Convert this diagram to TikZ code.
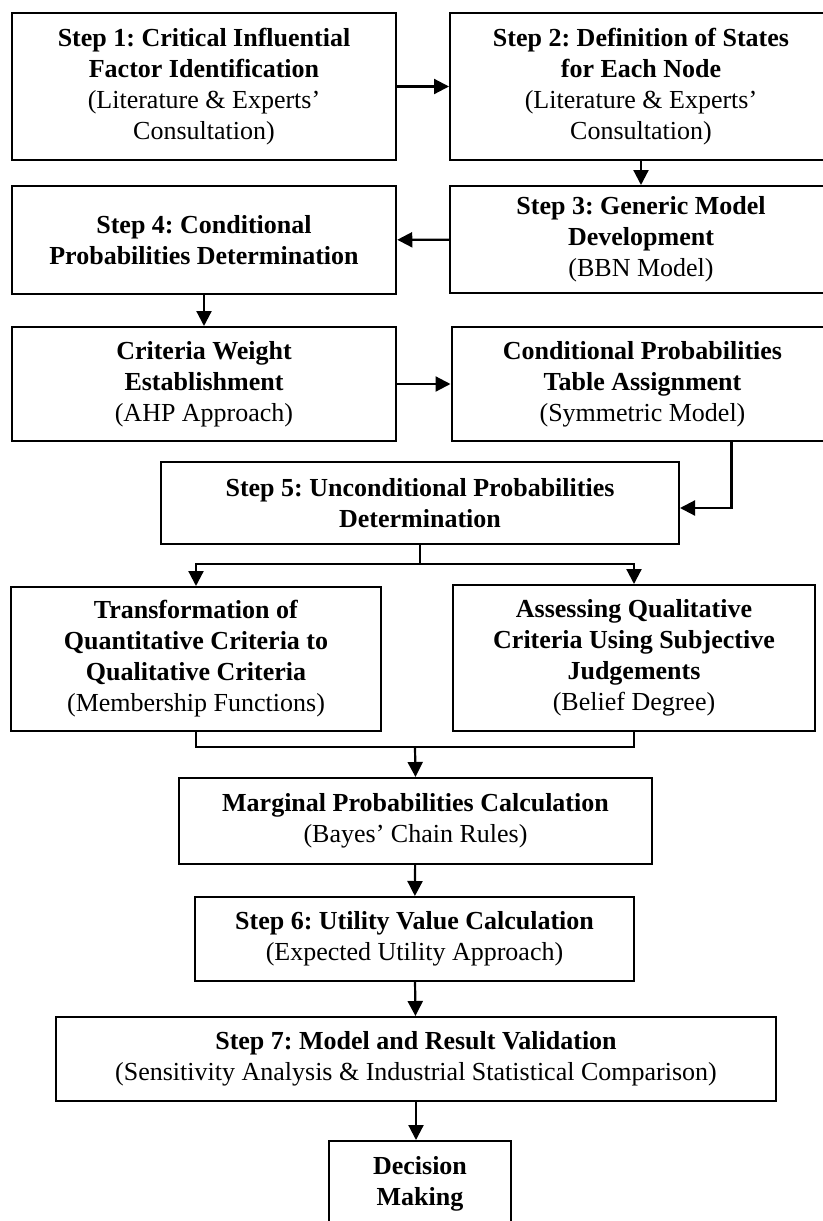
\documentclass[tikz,border=0pt]{standalone}
\usepackage{fontspec}
\setmainfont{Liberation Serif}
\frenchspacing
\usetikzlibrary{arrows.meta}

\begin{document}
\begin{tikzpicture}[x=0.5pt,y=-0.5pt,
    stepbox/.style={draw, line width=1pt, align=center, inner sep=2pt,
        font=\fontsize{13pt}{15.5pt}\selectfont},
    arr/.style={line width=1.1pt, -{Triangle[length=7.5pt,width=7.5pt]}}]
    \useasboundingbox (0,0) rectangle (823,1221);
    \clip (0,0) rectangle (823,1221);

    % first two rows
    \node[stepbox, minimum width=192.25pt, minimum height=73.5pt] (S1) at (204,86.5)
        {\textbf{Step 1: Critical Influential}\\\textbf{Factor Identification}\\(Literature \& Experts'\\Consultation)};
    \node[stepbox, minimum width=191pt, minimum height=73.5pt] (S2) at (641,86.5)
        {\textbf{Step 2: Definition of States}\\\textbf{for Each Node}\\(Literature \& Experts'\\Consultation)};
    \node[stepbox, minimum width=191pt, minimum height=53.5pt] (S3) at (641,239.5)
        {\textbf{Step 3: Generic Model}\\\textbf{Development}\\(BBN Model)};
    \node[stepbox, minimum width=192.25pt, minimum height=54pt] (S4) at (204,240)
        {\textbf{Step 4: Conditional}\\\textbf{Probabilities Determination}};

    % weights and tables
    \node[stepbox, minimum width=192.25pt, minimum height=57pt] (CW) at (204,384)
        {\textbf{Criteria Weight}\\\textbf{Establishment}\\(AHP Approach)};
    \node[stepbox, minimum width=191pt, minimum height=57pt] (CPT) at (642.5,384)
        {\textbf{Conditional Probabilities}\\\textbf{Table Assignment}\\(Symmetric Model)};
    \node[stepbox, minimum width=259pt, minimum height=41pt] (S5) at (420,503)
        {\textbf{Step 5: Unconditional Probabilities}\\\textbf{Determination}};

    % criteria
    \node[stepbox, minimum width=184.75pt, minimum height=72pt] (TR) at (196,659)
        {\textbf{Transformation of}\\\textbf{Quantitative Criteria to}\\\textbf{Qualitative Criteria}\\(Membership Functions)};
    \node[stepbox, minimum width=181.25pt, minimum height=73pt] (AS) at (634,658)
        {\textbf{Assessing Qualitative}\\\textbf{Criteria Using Subjective}\\\textbf{Judgements}\\(Belief Degree)};

    % last steps
    \node[stepbox, minimum width=236.5pt, minimum height=43pt] (MP) at (415.5,821)
        {\textbf{Marginal Probabilities Calculation}\\(Bayes' Chain Rules)};
    \node[stepbox, minimum width=219.5pt, minimum height=42pt] (S6) at (414.5,939)
        {\textbf{Step 6: Utility Value Calculation}\\(Expected Utility Approach)};
    \node[stepbox, minimum width=360pt, minimum height=42pt] (S7) at (416,1059)
        {\textbf{Step 7: Model and Result Validation}\\(Sensitivity Analysis \& Industrial Statistical Comparison)};
    \node[stepbox, minimum width=91pt, minimum height=43pt] (DM) at (420,1184)
        {\textbf{Decision}\\\textbf{Making}};

    \coordinate (M) at (415,747);

    \draw[arr] (S1) -- (S2);
    \draw[arr] (S2) -- (S3);
    \draw[arr] (S3) -- (S4);
    \draw[arr] (S4) -- (CW);
    \draw[arr] (CW) -- (CPT);
    \draw[arr] ([xshift=44.5pt]CPT.south) |- ([yshift=-2.5pt]S5.east);
    \draw[arr] (S5.south) -- ++(0,19) -| (TR.north);
    \draw[arr] (S5.south) -- ++(0,19) -| (AS.north);
    \draw[line width=1.1pt] (TR.south) |- (M) -| (AS.south);
    \draw[arr] (M) -- (MP.north);
    \draw[arr] (MP) -- (S6);
    \draw[arr] (S6) -- (S7);
    \draw[arr] (S7.south) -- (S7.south |- DM.north);
\end{tikzpicture}
\end{document}
